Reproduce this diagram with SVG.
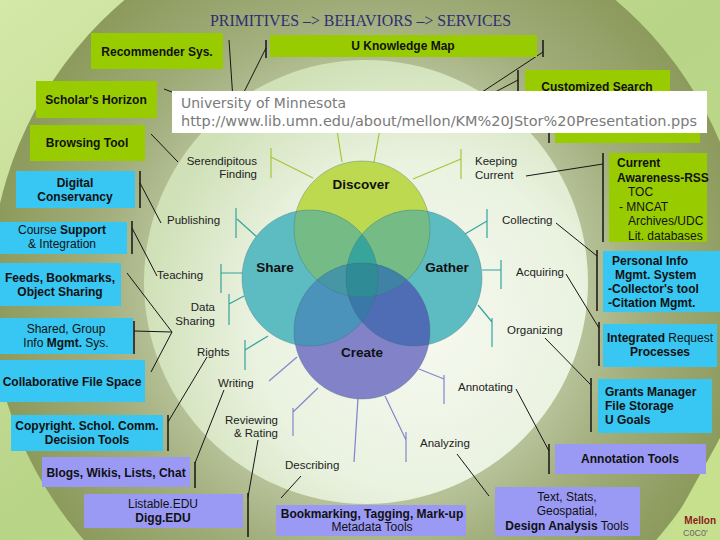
<svg xmlns="http://www.w3.org/2000/svg" width="720" height="540" viewBox="0 0 720 540">
<defs>
<linearGradient id="bgG" x1="0" y1="0" x2="1" y2="1">
<stop offset="0" stop-color="#d4e8a8"/><stop offset="0.5" stop-color="#b8d486"/><stop offset="1" stop-color="#c4e090"/>
</linearGradient>
<radialGradient id="olive" cx="370" cy="290" r="380" gradientUnits="userSpaceOnUse">
<stop offset="0" stop-color="#c0cba4"/><stop offset="0.57" stop-color="#b6c198"/><stop offset="0.72" stop-color="#a2ae7c"/><stop offset="1" stop-color="#8c9a5c"/>
</radialGradient>
<radialGradient id="inner" cx="0.62" cy="0.6" r="0.62">
<stop offset="0" stop-color="#f6f9f0"/><stop offset="0.6" stop-color="#eaf2e0"/><stop offset="1" stop-color="#d0e1b8"/>
</radialGradient>
<clipPath id="cD"><circle cx="362" cy="229" r="68"/></clipPath>
<clipPath id="cS"><circle cx="310" cy="278" r="68"/></clipPath>
<clipPath id="cG"><circle cx="414" cy="278" r="68"/></clipPath>
<clipPath id="cC"><circle cx="362" cy="331" r="68"/></clipPath>
<style>
.t{font-family:"Liberation Serif","Times New Roman",serif}
.bx{font-family:"Liberation Sans",Arial,sans-serif;font-size:12px;font-weight:bold;fill:#111}
.nb{font-weight:normal}
.bl{font-family:"Liberation Sans",Arial,sans-serif;font-size:11.5px;fill:#222}
.vn{font-family:"Liberation Sans",Arial,sans-serif;font-size:13.5px;font-weight:bold;fill:#111}
.gr{fill:#99cc00}
.bu{fill:#38c6f2}
.pu{fill:#9a9af4}
.k{stroke:#151515;stroke-width:1;fill:none}
.kb{stroke:#151515;stroke-width:1.5;fill:none}
.cd{stroke:#a6c63a;stroke-width:1.2;fill:none}
.cs{stroke:#35a39e;stroke-width:1.2;fill:none}
.cc{stroke:#8684cc;stroke-width:1.2;fill:none}
.ov{font-family:"DejaVu Sans",sans-serif;font-size:14px;fill:#7a7a7a}
</style>
</defs>

<g id="background">
<rect width="720" height="540" fill="url(#bgG)"/>
<circle cx="370" cy="290" r="380" fill="url(#olive)"/>
<polygon points="664,540 720,438 720,540" fill="#c6e08e"/>
<circle cx="366" cy="282" r="222" fill="url(#inner)"/>
</g>

<text class="t" x="210" y="26" font-size="17" fill="#2e2e74" textLength="301" lengthAdjust="spacingAndGlyphs">PRIMITIVES –&gt; BEHAVIORS –&gt; SERVICES</text>

<g id="connectors">
<path class="k" d="M229,40 L233,100"/>
<path class="kb" d="M266,40 V58"/><path class="k" d="M266,48 L240,100"/>
<path class="kb" d="M543,40 V57"/><path class="k" d="M543,52 L470,100"/>
<path class="kb" d="M518,70 V100"/><path class="k" d="M518,80 L480,100"/>
<path class="kb" d="M549,120 V143"/>
<path class="k" d="M164,89 L180,95"/>
<path class="k" d="M151,134 L178,162"/>
<path class="kb" d="M140,171 V208"/><path class="k" d="M140,183 L161,223"/>
<path class="kb" d="M132,221 V254"/><path class="k" d="M132,228 L157,276"/>
<path class="k" d="M127,273 L172,332"/>
<path class="kb" d="M134,321 V354"/><path class="k" d="M134,331 L172,332"/>
<path class="k" d="M151,372 L172,332"/>
<path class="kb" d="M168,415 V451"/><path class="k" d="M168,422 L207,357"/>
<path class="kb" d="M195,462 V488"/><path class="k" d="M195,463 L224,390"/>
<path class="kb" d="M248,493 V537"/><path class="k" d="M248,497 L258,440"/>
<path class="k" d="M281,498 L301,476"/>
<path class="kb" d="M603,153 V242"/><path class="k" d="M603,164 L526,176"/>
<path class="kb" d="M597,250 V311"/><path class="k" d="M597,256 L556,223"/>
<path class="kb" d="M599,322 V366"/><path class="k" d="M599,328 L566,274"/>
<path class="kb" d="M591,378 V432"/><path class="k" d="M591,385 L545,338"/>
<path class="kb" d="M549,444 V474"/><path class="k" d="M549,451 L516,389"/>
<path class="k" d="M489,496 L457,454"/>
<path class="cd" d="M271,148 V178 M271,157 L313,178"/>
<path class="cd" d="M461,149 V179 M461,159 L413,179"/>
<path class="cd" d="M342,162 L335,118 M374,162 L382,118"/>
<path class="cs" d="M236,208 V238 M237,219 L257,237"/>
<path class="cs" d="M221,264 V293 M221,273 L243,273"/>
<path class="cs" d="M229,294 V325 M229,304 L244,296"/>
<path class="cs" d="M245,340 V370 M245,350 L268,336"/>
<path class="cs" d="M487,209 V238 M487,221 L465,234"/>
<path class="cs" d="M501,260 V289 M501,270 L482,270"/>
<path class="cs" d="M492,318 V347 M492,322 L478,305"/>
<path class="cc" d="M269,381 L297,357"/>
<path class="cc" d="M293,408 V436 M293,412 L318,388"/>
<path class="cc" d="M358,398 L354,462"/>
<path class="cc" d="M406,432 V462 M406,440 L385,396"/>
<path class="cc" d="M444,375 V404 M444,379 L419,369"/>
</g>

<g id="venn">
<g id="discover"><circle cx="362" cy="229" r="68" fill="#bcd94f"/></g>
<g id="share"><circle cx="310" cy="278" r="68" fill="#5dbcc1"/></g>
<g id="gather"><circle cx="414" cy="278" r="68" fill="#5dbcc1"/></g>
<g id="create"><circle cx="362" cy="331" r="68" fill="#8282c9"/></g>
<g id="overlaps">
<circle cx="310" cy="278" r="68" fill="#74bb86" clip-path="url(#cD)"/>
<circle cx="414" cy="278" r="68" fill="#74bb86" clip-path="url(#cD)"/>
<circle cx="362" cy="331" r="68" fill="#3f9aa0" clip-path="url(#cD)"/>
<circle cx="362" cy="331" r="68" fill="#4b93bb" clip-path="url(#cS)"/>
<circle cx="362" cy="331" r="68" fill="#4f6db4" clip-path="url(#cG)"/>
<g clip-path="url(#cD)"><circle cx="310" cy="278" r="68" fill="#38a59b" clip-path="url(#cG)"/></g>
<g clip-path="url(#cS)"><circle cx="362" cy="331" r="68" fill="#3b78aa" clip-path="url(#cG)"/></g>
<g clip-path="url(#cD)"><circle cx="362" cy="331" r="68" fill="#4796a6" clip-path="url(#cS)"/></g>
<g clip-path="url(#cD)"><circle cx="362" cy="331" r="68" fill="#3f82a6" clip-path="url(#cG)"/></g>
<g clip-path="url(#cD)"><g clip-path="url(#cS)"><circle cx="362" cy="331" r="68" fill="#2f8b95" clip-path="url(#cG)"/></g></g>
</g>
<g fill="none" stroke="#3c6e78" stroke-opacity="0.35" stroke-width="1">
<circle cx="362" cy="229" r="68"/><circle cx="310" cy="278" r="68"/><circle cx="414" cy="278" r="68"/><circle cx="362" cy="331" r="68"/>
</g>
<text class="vn" x="361" y="189" text-anchor="middle">Discover</text>
<text class="vn" x="275" y="272" text-anchor="middle">Share</text>
<text class="vn" x="447" y="272" text-anchor="middle">Gather</text>
<text class="vn" x="362" y="357" text-anchor="middle" fill="#141a3a">Create</text>
</g>

<g id="behaviors">
<g id="b-serendipitous"><text class="bl" x="257" y="165" text-anchor="end">Serendipitous</text><text class="bl" x="257" y="178" text-anchor="end">Finding</text></g>
<g id="b-keeping"><text class="bl" x="475" y="165">Keeping</text><text class="bl" x="475" y="179">Current</text></g>
<g id="b-publishing"><text class="bl" x="167" y="224">Publishing</text></g>
<g id="b-collecting"><text class="bl" x="502" y="224">Collecting</text></g>
<g id="b-teaching"><text class="bl" x="157" y="279">Teaching</text></g>
<g id="b-acquiring"><text class="bl" x="516" y="276">Acquiring</text></g>
<g id="b-datasharing"><text class="bl" x="215" y="311" text-anchor="end">Data</text><text class="bl" x="215" y="325" text-anchor="end">Sharing</text></g>
<g id="b-organizing"><text class="bl" x="507" y="334">Organizing</text></g>
<g id="b-rights"><text class="bl" x="197" y="356">Rights</text></g>
<g id="b-writing"><text class="bl" x="218" y="387">Writing</text></g>
<g id="b-annotating"><text class="bl" x="458" y="391">Annotating</text></g>
<g id="b-reviewing"><text class="bl" x="278" y="424" text-anchor="end">Reviewing</text><text class="bl" x="278" y="437" text-anchor="end">&amp; Rating</text></g>
<g id="b-describing"><text class="bl" x="285" y="469">Describing</text></g>
<g id="b-analyzing"><text class="bl" x="420" y="447">Analyzing</text></g>
</g>

<g id="services">
<g id="s-recommender"><rect class="gr" x="91" y="33" width="132" height="36"/><text class="bx" x="157" y="56" text-anchor="middle">Recommender Sys.</text></g>
<g id="s-knowledgemap"><rect class="gr" x="270" y="35" width="267" height="22"/><text class="bx" x="403" y="50" text-anchor="middle">U Knowledge Map</text></g>
<g id="s-customized"><rect class="gr" x="525" y="70" width="145" height="30"/><text class="bx" x="597" y="91" text-anchor="middle">Customized Search</text></g>
<g id="s-hidden"><rect class="gr" x="555" y="110" width="145" height="33"/></g>
<g id="s-scholars"><rect class="gr" x="36" y="81" width="121" height="37"/><text class="bx" x="96" y="104" text-anchor="middle">Scholar's Horizon</text></g>
<g id="s-browsing"><rect class="gr" x="30" y="125" width="115" height="36"/><text class="bx" x="87" y="147" text-anchor="middle">Browsing Tool</text></g>
<g id="s-current"><rect class="gr" x="609" y="153" width="98" height="89"/>
<text class="bx" x="617" y="167">Current</text><text class="bx" x="617" y="182">Awareness-RSS</text>
<text class="bx nb" x="628" y="196" font-size="11">TOC</text><text class="bx nb" x="619" y="211" font-size="11">- MNCAT</text>
<text class="bx nb" x="628" y="225" font-size="11">Archives/UDC</text><text class="bx nb" x="628" y="240" font-size="11">Lit. databases</text></g>
<g id="s-digital"><rect class="bu" x="16" y="171" width="119" height="37"/><text class="bx" x="75" y="187" text-anchor="middle">Digital</text><text class="bx" x="75" y="201" text-anchor="middle">Conservancy</text></g>
<g id="s-course"><rect class="bu" x="0" y="222" width="127" height="32"/><text class="bx" x="62" y="234" text-anchor="middle"><tspan class="nb">Course </tspan>Support</text><text class="bx" x="62" y="248" text-anchor="middle"><tspan class="nb">&amp; Integration</tspan></text></g>
<g id="s-feeds"><rect class="bu" x="0" y="263" width="121" height="43"/><text class="bx" x="60" y="282" text-anchor="middle">Feeds, Bookmarks,</text><text class="bx" x="60" y="296" text-anchor="middle">Object Sharing</text></g>
<g id="s-shared"><rect class="bu" x="0" y="318" width="133" height="36"/><text class="bx" x="66" y="333" text-anchor="middle"><tspan class="nb">Shared, Group</tspan></text><text class="bx" x="66" y="347" text-anchor="middle"><tspan class="nb">Info </tspan>Mgmt.<tspan class="nb"> Sys.</tspan></text></g>
<g id="s-collab"><rect class="bu" x="0" y="360" width="145" height="42"/><text class="bx" x="72" y="386" text-anchor="middle">Collaborative File Space</text></g>
<g id="s-copyright"><rect class="bu" x="11" y="415" width="152" height="36"/><text class="bx" x="87" y="430" text-anchor="middle">Copyright. Schol. Comm.</text><text class="bx" x="87" y="444" text-anchor="middle">Decision Tools</text></g>
<g id="s-personal"><rect class="bu" x="603" y="251" width="117" height="61"/>
<text class="bx" x="612" y="265">Personal Info</text><text class="bx" x="615" y="279">Mgmt. System</text><text class="bx" x="608" y="293">-Collector's tool</text><text class="bx" x="608" y="307">-Citation Mgmt.</text></g>
<g id="s-integrated"><rect class="bu" x="603" y="324" width="114" height="43"/><text class="bx" x="660" y="342" text-anchor="middle">Integrated<tspan class="nb"> Request</tspan></text><text class="bx" x="660" y="356" text-anchor="middle">Processes</text></g>
<g id="s-grants"><rect class="bu" x="598" y="379" width="114" height="54"/><text class="bx" x="605" y="396">Grants Manager</text><text class="bx" x="605" y="410">File Storage</text><text class="bx" x="605" y="424">U Goals</text></g>
<g id="s-blogs"><rect class="pu" x="42" y="457" width="148" height="30"/><text class="bx" x="116" y="477" text-anchor="middle">Blogs, Wikis, Lists, Chat</text></g>
<g id="s-listable"><rect class="pu" x="84" y="494" width="159" height="34"/><text class="bx nb" x="163" y="508" text-anchor="middle">Listable.EDU</text><text class="bx" x="163" y="522" text-anchor="middle">Digg.EDU</text></g>
<g id="s-bookmarking"><rect class="pu" x="276" y="505" width="190" height="31"/><text class="bx" x="372" y="518" text-anchor="middle">Bookmarking, Tagging, Mark-up</text><text class="bx nb" x="372" y="531" text-anchor="middle">Metadata Tools</text></g>
<g id="s-textstats"><rect class="pu" x="495" y="487" width="145" height="49"/><text class="bx nb" x="567" y="501" text-anchor="middle">Text, Stats,</text><text class="bx nb" x="567" y="515" text-anchor="middle">Geospatial,</text><text class="bx" x="567" y="530" text-anchor="middle">Design Analysis<tspan class="nb"> Tools</tspan></text></g>
<g id="s-annotation"><rect class="pu" x="555" y="444" width="151" height="30"/><text class="bx" x="630" y="463" text-anchor="middle">Annotation Tools</text></g>
</g>

<g id="footer">
<text x="716" y="524" text-anchor="end" font-family="Liberation Sans,Arial,sans-serif" font-size="10" font-weight="bold" fill="#8a1c1c">Mellon</text>
<text x="683" y="536" font-family="Liberation Sans,Arial,sans-serif" font-size="9" fill="#666">C0C0'</text>
</g>

<g id="overlay">
<rect x="172" y="91" width="535" height="42" fill="#ffffff"/>
<text class="ov" x="181" y="108" textLength="165" lengthAdjust="spacingAndGlyphs">University of Minnesota</text>
<text class="ov" x="181" y="126" textLength="516" lengthAdjust="spacingAndGlyphs">http://www.lib.umn.edu/about/mellon/KM%20JStor%20Presentation.pps</text>
</g>
</svg>
